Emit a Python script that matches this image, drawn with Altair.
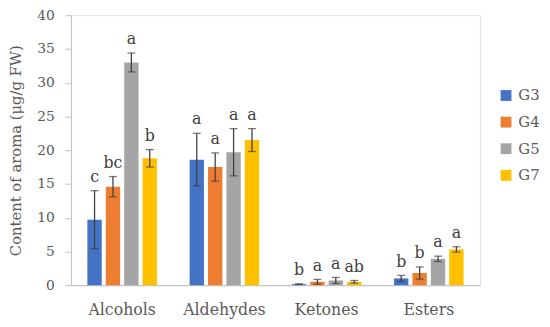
import altair as alt
import pandas as pd

categories = ["Alcohols", "Aldehydes", "Ketones", "Esters"]
groups = ["G3", "G4", "G5", "G7"]
colors = ["#4472C4", "#ED7D31", "#A5A5A5", "#FFC000"]

means = {
    "G3": [9.7, 18.6, 0.15, 1.0],
    "G4": [14.6, 17.5, 0.5, 1.8],
    "G5": [33.0, 19.7, 0.7, 3.9],
    "G7": [18.8, 21.5, 0.5, 5.3],
}
errors = {
    "G3": [4.3, 3.9, 0.05, 0.45],
    "G4": [1.5, 2.1, 0.35, 0.9],
    "G5": [1.4, 3.5, 0.45, 0.4],
    "G7": [1.3, 1.7, 0.2, 0.4],
}
letters = {
    "G3": ["c", "a", "b", "b"],
    "G4": ["bc", "a", "a", "b"],
    "G5": ["a", "a", "a", "a"],
    "G7": ["b", "a", "ab", "a"],
}
y_ticks = [0, 5, 10, 15, 20, 25, 30, 35, 40]

rows = []
for g in groups:
    for i, c in enumerate(categories):
        m = means[g][i]
        e = errors[g][i]
        rows.append({"cat": c, "grp": g, "mean": m, "lo": m - e, "hi": m + e, "letter": letters[g][i]})
df = pd.DataFrame(rows)

FONT = "DejaVu Serif"

x_axis = alt.Axis(title=None, labelAngle=0, labelFont=FONT, labelFontSize=16,
                  labelColor="#595959", ticks=False, labelPadding=17,
                  domainColor="#BFBFBF", domainWidth=1)
x_scale = alt.Scale(paddingInner=0.28, paddingOuter=0.14)
x_enc = alt.X("cat:N", sort=categories, scale=x_scale, axis=x_axis)
xoff = alt.XOffset("grp:N", sort=groups, scale=alt.Scale(paddingInner=0.22, paddingOuter=0.11))
y_scale = alt.Scale(domain=[0, 40], nice=False)
y_axis = alt.Axis(title="Content of aroma (μg/g FW)", values=y_ticks,
                  labelOverlap=False,
                  grid=False, tickSize=6, tickColor="#BFBFBF", domainColor="#BFBFBF",
                  labelFont=FONT, labelFontSize=14, labelColor="#595959", labelPadding=11,
                  titleFont=FONT, titleFontSize=15, titleFontWeight="normal",
                  titleColor="#595959", titleX=-48)


def Y(field):
    return alt.Y(field, scale=y_scale, axis=y_axis)


base = alt.Chart(df)

bars = base.mark_bar().encode(
    x=x_enc,
    xOffset=xoff,
    y=Y("mean:Q"),
    color=alt.Color("grp:N", sort=groups, scale=alt.Scale(domain=groups, range=colors),
                    legend=alt.Legend(title=None, orient="none", legendX=434, legendY=74,
                                      symbolType="square", symbolSize=121, symbolStrokeWidth=0,
                                      labelFont=FONT, labelFontSize=15, labelColor="#595959",
                                      rowPadding=11, labelOffset=5)),
)

rules = base.mark_rule(color="#404040", strokeWidth=1.3).encode(
    x=x_enc, xOffset=xoff,
    y=Y("lo:Q"), y2="hi:Q",
)
caps_hi = base.mark_tick(color="#404040", thickness=1.3, size=8, orient="horizontal").encode(
    x=x_enc, xOffset=xoff, y=Y("hi:Q"),
)
caps_lo = base.mark_tick(color="#404040", thickness=1.3, size=8, orient="horizontal").encode(
    x=x_enc, xOffset=xoff, y=Y("lo:Q"),
)
texts = base.mark_text(font=FONT, fontSize=16, color="#404040", baseline="alphabetic", dy=-9).encode(
    x=x_enc, xOffset=xoff, y=Y("hi:Q"), text="letter:N",
)

chart = alt.layer(bars, rules, caps_hi, caps_lo, texts).properties(
    width=415, height=274,
    autosize=alt.AutoSizeParams(type="none"),
    padding={"left": 64, "top": 5, "right": 63, "bottom": 32},
).configure_view(stroke=None).configure(background="white")

chart.save("out.html", embed_options={"renderer": "svg", "actions": False})
